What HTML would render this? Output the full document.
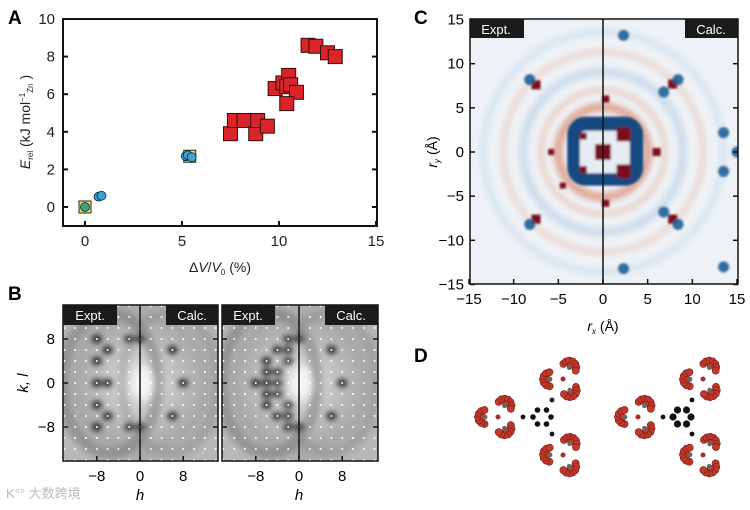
<!DOCTYPE html>
<html><head><meta charset="utf-8"><style>
body{margin:0;background:#fff;}
svg{display:block;font-family:"Liberation Sans",Arial,sans-serif;}
</style></head><body>
<svg id="fig" width="750" height="510" viewBox="0 0 750 510">
<defs>
<filter id="blur1"><feGaussianBlur stdDeviation="1"/></filter>
<filter id="blur3"><feGaussianBlur stdDeviation="3"/></filter>
<filter id="blur5"><feGaussianBlur stdDeviation="5"/></filter>
<clipPath id="clipB1"><rect x="63" y="305" width="155" height="156"/></clipPath>
<clipPath id="clipB2"><rect x="222" y="305" width="156" height="156"/></clipPath>
<clipPath id="clipC"><rect x="470" y="19" width="268" height="265"/></clipPath>
<radialGradient id="gB" cx="0.5" cy="0.5" r="0.6"><stop offset="0" stop-color="#ececec"/><stop offset="0.35" stop-color="#c4c4c4"/><stop offset="0.7" stop-color="#a8a8a8"/><stop offset="1" stop-color="#b8b8b8"/></radialGradient>
</defs>

<g id="panelA">
<text x="8" y="24" font-size="19" font-weight="bold">A</text>
<rect x="63" y="19" width="314" height="207" fill="none" stroke="#111" stroke-width="2"/>
<g id="axA"></g>
<g id="marksA"></g>
<text x="220" y="272" font-size="14" text-anchor="middle" fill="#222">Δ<tspan font-style="italic">V</tspan>/<tspan font-style="italic">V</tspan><tspan font-size="8" dy="3">0</tspan><tspan dy="-3"> (%)</tspan></text>
<text transform="translate(30,122) rotate(-90)" font-size="14" text-anchor="middle" fill="#222"><tspan font-style="italic">E</tspan><tspan font-size="8" dy="3">rel</tspan><tspan dy="-3"> (kJ mol</tspan><tspan font-size="8" dy="-5">−1</tspan><tspan font-size="8" dy="8">Zn</tspan><tspan dy="-3"> )</tspan></text>
</g>

<g id="panelB">
<text x="8" y="300" font-size="19" font-weight="bold">B</text>
<g clip-path="url(#clipB1)">
<rect x="63" y="305" width="155" height="156" fill="url(#gB)"/>
<g id="b1spots" filter="url(#blur3)"></g>
<g id="b1dots"></g>
</g>
<g clip-path="url(#clipB2)">
<rect x="222" y="305" width="156" height="156" fill="url(#gB)"/>
<g id="b2spots" filter="url(#blur3)"></g>
<g id="b2dots"></g>
</g>
<rect x="63" y="305" width="155" height="156" fill="none" stroke="#111" stroke-width="1.5"/>
<rect x="222" y="305" width="156" height="156" fill="none" stroke="#111" stroke-width="1.5"/>
<line x1="140" y1="305" x2="140" y2="461" stroke="#111" stroke-width="1.5"/>
<line x1="299" y1="305" x2="299" y2="461" stroke="#111" stroke-width="1.5"/>
<rect x="63" y="305" width="54" height="20" fill="#1a1a1a"/>
<text x="90" y="320" font-size="13" fill="#fff" text-anchor="middle">Expt.</text>
<rect x="166" y="305" width="52" height="20" fill="#1a1a1a"/>
<text x="192" y="320" font-size="13" fill="#fff" text-anchor="middle">Calc.</text>
<rect x="222" y="305" width="53" height="20" fill="#1a1a1a"/>
<text x="248" y="320" font-size="13" fill="#fff" text-anchor="middle">Expt.</text>
<rect x="325" y="305" width="53" height="20" fill="#1a1a1a"/>
<text x="351" y="320" font-size="13" fill="#fff" text-anchor="middle">Calc.</text>
<g id="axB"></g>
<text transform="translate(28,383) rotate(-90)" font-size="15" text-anchor="middle" font-style="italic">k, l</text>
<text x="140" y="500" font-size="15" text-anchor="middle" font-style="italic">h</text>
<text x="299" y="500" font-size="15" text-anchor="middle" font-style="italic">h</text>
<text x="6" y="498" font-size="13" fill="#bbb" font-family="'Liberation Sans','Noto Sans CJK SC',sans-serif">K°° 大数跨境</text>
</g>

<g id="panelC">
<text x="414" y="24" font-size="19" font-weight="bold">C</text>
<g clip-path="url(#clipC)">
<rect x="470" y="19" width="268" height="265" fill="#eef2f6"/>
<g filter="url(#blur3)">
<circle cx="603" cy="152" r="45" fill="none" stroke="#d98a70" stroke-width="9" opacity="0.7"/>
<circle cx="603" cy="152" r="62" fill="none" stroke="#e8b39e" stroke-width="6" opacity="0.5"/>
<circle cx="603" cy="152" r="80" fill="none" stroke="#a8c6de" stroke-width="9" opacity="0.45"/>
<circle cx="603" cy="152" r="100" fill="none" stroke="#eab8a4" stroke-width="6" opacity="0.45"/>
<circle cx="603" cy="152" r="120" fill="none" stroke="#c4d8e8" stroke-width="8" opacity="0.45"/>
</g>
<g id="cmarks" filter="url(#blur1)"></g>
</g>
<rect x="470" y="19" width="268" height="265" fill="none" stroke="#111" stroke-width="1.5"/>
<line x1="603" y1="19" x2="603" y2="284" stroke="#111" stroke-width="1.5"/>
<rect x="470" y="19" width="54" height="19" fill="#1a1a1a"/>
<text x="496" y="34" font-size="13" fill="#fff" text-anchor="middle">Expt.</text>
<rect x="685" y="19" width="53" height="19" fill="#1a1a1a"/>
<text x="711" y="34" font-size="13" fill="#fff" text-anchor="middle">Calc.</text>
<g id="axC"></g>
<text x="603" y="331" font-size="14" text-anchor="middle"><tspan font-style="italic">r</tspan><tspan font-size="8" dy="3" font-style="italic">x</tspan><tspan dy="-3"> (Å)</tspan></text>
<text transform="translate(437,152) rotate(-90)" font-size="14" text-anchor="middle"><tspan font-style="italic">r</tspan><tspan font-size="8" dy="3" font-style="italic">y</tspan><tspan dy="-3"> (Å)</tspan></text>
</g>

<g id="panelD">
<text x="414" y="362" font-size="19" font-weight="bold">D</text>
<g id="molD"></g>
</g>
</svg>
<script>
var NS="http://www.w3.org/2000/svg";
function mk(tag,attrs,parent){var e=document.createElementNS(NS,tag);for(var k in attrs)e.setAttribute(k,attrs[k]);parent.appendChild(e);return e;}

var xTicksA=[0,5,10,15];
var yTicksA=[0,2,4,6,8,10];
var squaresX=[7.5,7.7,8.2,8.8,8.9,9.4,9.8,10.2,10.5,10.4,10.6,10.9,10.4,11.5,11.9,12.5,12.9];
var squaresY=[3.9,4.6,4.6,3.9,4.6,4.3,6.3,6.6,7.0,6.4,6.5,6.1,5.5,8.6,8.55,8.2,8.0];
var refX=[0,5.4];
var refY=[0,2.7];
var circlesX=[0.7,0.85,5.2,5.3,5.5,0];
var circlesY=[0.55,0.6,2.7,2.75,2.65,0];
function xA(v){return 85+v*(291/15);}
function yA(v){return 207-v*18.8;}
var axA=document.getElementById('axA');
xTicksA.forEach(function(t){
 var l=mk('line',{x1:xA(t),x2:xA(t),y1:226,y2:221,stroke:'#111','stroke-width':2},axA);
 
 
 var tx=mk('text',{x:xA(t),y:246,'font-size':15,'text-anchor':'middle',fill:'#222'},axA);tx.textContent=t;
 
 
});
yTicksA.forEach(function(t){
 var l=mk('line',{x1:63,x2:68,y1:yA(t),y2:yA(t),stroke:'#111','stroke-width':2},axA);
 
 
 var l2=mk('line',{x1:377,x2:372,y1:yA(t),y2:yA(t),stroke:'#111','stroke-width':2},axA);
 
 
 var tx=mk('text',{x:55,y:yA(t)+5,'font-size':15,'text-anchor':'end',fill:'#222'},axA);tx.textContent=t;
 
 
});
var mA=document.getElementById('marksA');
squaresX.forEach(function(v,i){
 var r=mk('rect',{x:xA(v)-7,y:yA(squaresY[i])-7,width:14,height:14,fill:'#d9252a',stroke:'#3a0a0a','stroke-width':1},mA);
 
 
});
refX.forEach(function(v,i){
 var r=mk('rect',{x:xA(v)-6,y:yA(refY[i])-6,width:12,height:12,fill:'#e8e86a',stroke:'#222','stroke-width':1},mA);
 
 
});
circlesX.forEach(function(v,i){
 var c=mk('circle',{cx:xA(v),cy:yA(circlesY[i]),r:4.5,fill:i==5?'#3aa37a':'#3ba3d6',stroke:'#123','stroke-width':0.8},mA);
 
 
});

var hTicks=[-8,0,8];
var kTicks=[8,0,-8];
var axB=document.getElementById('axB');
function kY(v){return 383-v*5.5;}
[[140,'b1'],[299,'b2']].forEach(function(p){
 var cx=p[0];
 hTicks.forEach(function(t){
  var x=cx+t*5.4;
  mk('line',{x1:x,x2:x,y1:461,y2:456,stroke:'#111','stroke-width':1.5},axB);
  var tx=mk('text',{x:x,y:481,'font-size':15,'text-anchor':'middle'},axB);tx.textContent=t==-8?'−8':t;
  
  
 });
 var sp=document.getElementById(p[1]+'spots');
 mk('ellipse',{cx:cx-30,cy:383,rx:48,ry:70,fill:'none',stroke:'#777','stroke-width':12,opacity:0.5},sp);
 mk('ellipse',{cx:cx+30,cy:383,rx:48,ry:70,fill:'none',stroke:'#888','stroke-width':10,opacity:0.35},sp);
 var pts=p[1]=='b1'?[[-8,8],[-6,6],[-2,8],[0,8],[-8,0],[-6,0],[-8,-8],[-6,-6],[-2,-8],[0,-8],[8,0],[6,6],[6,-6],[-8,4],[-8,-4]]
   :[[-8,0],[-6,4],[-6,-4],[-4,6],[-4,-6],[-2,8],[-2,-8],[0,8],[0,-8],[-4,2],[-4,-2],[-2,4],[-2,-4],[8,0],[6,6],[6,-6],[-6,0],[-4,0],[-2,6],[-2,-6],[-6,2],[-6,-2]];
 pts.forEach(function(q){mk('ellipse',{cx:cx+q[0]*5.4,cy:383-q[1]*5.5,rx:5,ry:4,fill:'#000',opacity:0.85},sp);});
 mk('ellipse',{cx:cx+3,cy:383,rx:10,ry:17,fill:'#fff',opacity:0.6},sp);
 var dots=document.getElementById(p[1]+'dots');
 for(var i=-14;i<=14;i+=2)for(var j=-14;j<=14;j+=2){
  mk('circle',{cx:cx+i*5.4,cy:383+j*5.5,r:1,fill:'#fff'},dots);
 }
});
kTicks.forEach(function(t){
 [63,222].forEach(function(x0){mk('line',{x1:x0,x2:x0+5,y1:kY(t),y2:kY(t),stroke:'#111','stroke-width':1.5},axB);});
 [218,378].forEach(function(x0){mk('line',{x1:x0,x2:x0-5,y1:kY(t),y2:kY(t),stroke:'#111','stroke-width':1.5},axB);});
 var tx=mk('text',{x:55,y:kY(t)+5,'font-size':15,'text-anchor':'end'},axB);tx.textContent=t==-8?'−8':t;
 
 
});

var cTicks=[-15,-10,-5,0,5,10,15];
function cx(v){return 603+v*(268/30);}
function cy(v){return 152-v*(265/30);}
var axC=document.getElementById('axC');
cTicks.forEach(function(t){
 var lab=t<0?'−'+(-t):''+t;
 mk('line',{x1:cx(t),x2:cx(t),y1:284,y2:279,stroke:'#111','stroke-width':1.5},axC);
 var tx=mk('text',{x:cx(t),y:304,'font-size':15,'text-anchor':'middle'},axC);tx.textContent=lab;
 
 
 mk('line',{x1:470,x2:475,y1:cy(t),y2:cy(t),stroke:'#111','stroke-width':1.5},axC);
 mk('line',{x1:738,x2:733,y1:cy(t),y2:cy(t),stroke:'#111','stroke-width':1.5},axC);
 var ty=mk('text',{x:464,y:cy(t)+5,'font-size':15,'text-anchor':'end'},axC);ty.textContent=lab;
 
 
});
var cm=document.getElementById('cmarks');
mk('rect',{x:cx(-4),y:cy(4),width:cx(4.5)-cx(-4),height:cy(-3.8)-cy(4),rx:18,fill:'#124a80'},cm);
mk('rect',{x:cx(-2.6),y:cy(2.4),width:cx(3)-cx(-2.6),height:cy(-2.4)-cy(2.4),rx:6,fill:'#e6ecf2'},cm);
var redX=[0,-2.2,-2.2,2.3,2.3,-7.5,-7.5,7.8,7.8,6,0.3,0.3,-5.8,-4.5];
var redY=[0,1.8,-2,2,-2.2,7.6,-7.6,7.7,-7.6,0,6,-5.8,0,-3.8];
var redR=[8,3.5,3.5,7,7,4.5,4.5,4.5,4.5,4,3.5,3.5,3,3];
redX.forEach(function(v,i){mk('rect',{x:cx(v)-redR[i],y:cy(redY[i])-redR[i],width:redR[i]*2,height:redR[i]*2,fill:'#7c0a1e'},cm);});
var blueX=[6.8,8.4,6.8,8.4,-8.2,-8.2,13.5,13.5,15,2.3,2.3,13.5];
var blueY=[6.8,8.2,-6.8,-8.2,8.2,-8.2,2.2,-2.2,0,13.2,-13.2,-13];
blueX.forEach(function(v,i){mk('circle',{cx:cx(v),cy:cy(blueY[i]),r:5.5,fill:'#1f5f99',opacity:0.9},cm);});

var md=document.getElementById('molD');
function molecule(ox,oy,big){
 var g=mk('g',{},md);
 
 
 var r0=big?3.6:2.8;
 [[-9,0],[-4.5,-7],[4.5,-7],[9,0],[4.5,7],[-4.5,7]].forEach(function(q){mk('circle',{cx:ox+q[0],cy:oy+q[1],r:r0,fill:'#111'},g);});
 [[-19,0],[10,-17],[10,17]].forEach(function(q){mk('circle',{cx:ox+q[0],cy:oy+q[1],r:2.4,fill:'#111'},g);});
 var lobes=[[-44,0],[21,-38],[21,38]];
 lobes.forEach(function(L){
  var lx=ox+L[0],ly=oy+L[1];
  mk('circle',{cx:lx,cy:ly,r:2.5,fill:'#a03030'},g);
  var base=Math.atan2(L[1],L[0]);
  for(var a=0;a<3;a++){
   var ang=base+(a-1)*2*Math.PI/3;
   var ax=lx+Math.cos(ang)*13,ay=ly+Math.sin(ang)*13;
   for(var b=0;b<7;b++){var bb=ang-1.5+b*0.5;mk('circle',{cx:ax+Math.cos(bb)*7,cy:ay+Math.sin(bb)*7,r:3.6,fill:'#c0392b',stroke:'#7a1a12','stroke-width':0.6},g);}
   mk('circle',{cx:ax+Math.cos(ang)*2,cy:ay+Math.sin(ang)*2,r:3,fill:'#c0392b',stroke:'#7a1a12','stroke-width':0.6},g);
   mk('circle',{cx:ax,cy:ay,r:2.4,fill:'#666'},g);
  }
 });
}
molecule(542,417,false);
molecule(682,417,true);
</script>
</body></html>
